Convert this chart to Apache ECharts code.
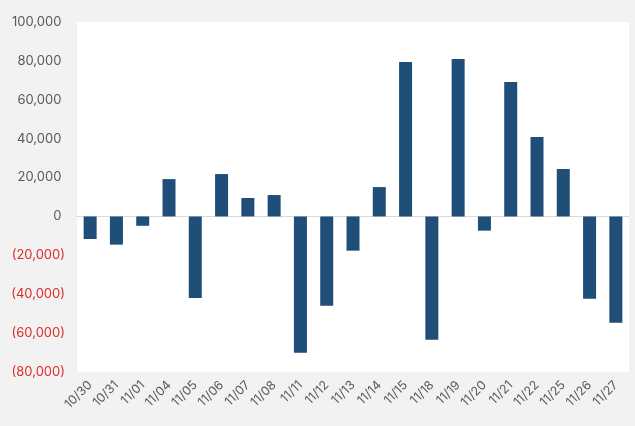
<!DOCTYPE html>
<html><head><meta charset="utf-8">
<script src="https://cdn.jsdelivr.net/npm/echarts@6/dist/echarts.min.js"></script>
<style>html,body{margin:0;padding:0;background:#f2f2f2}#c{width:635px;height:426px}</style>
</head><body><div id="c"></div>
<script>
const categories = ['10/30','10/31','11/01','11/04','11/05','11/06','11/07','11/08','11/11','11/12','11/13','11/14','11/15','11/18','11/19','11/20','11/21','11/22','11/25','11/26','11/27'];
const values = [-11600,-14500,-4800,19200,-42000,21800,9500,11000,-70100,-45900,-17600,15100,79400,-63400,81000,-7300,69100,40800,24400,-42300,-54700];
const yMin = -80000, yMax = 100000, yStep = 20000;

function fmt(v){
  const s = Math.abs(v).toLocaleString('en-US');
  return v < 0 ? '(' + s + ')' : s + ' ';
}
const chart = echarts.init(document.getElementById('c'));
chart.setOption({
  backgroundColor: '#f2f2f2',
  animation: false,
  grid: { left: 77, right: 6, top: 22, bottom: 54, show: true, backgroundColor: '#ffffff', borderWidth: 0 },
  xAxis: {
    type: 'category', data: categories,
    axisLine: { show: true, onZero: true, lineStyle: { color: '#d9d9d9', width: 1 } },
    axisTick: { show: false },
    axisLabel: { rotate: 45, interval: 0, color: '#595959', fontSize: 12.5, fontFamily: 'Inter, sans-serif', margin: 11 }
  },
  yAxis: {
    type: 'value', min: yMin, max: yMax, interval: yStep,
    splitLine: { show: false }, axisLine: { show: false }, axisTick: { show: false },
    axisLabel: {
      formatter: fmt, fontSize: 13, fontFamily: 'Inter, sans-serif', margin: 12,
      color: function(v){ return v < 0 ? '#e02b2b' : '#595959'; }
    }
  },
  series: [{
    type: 'bar', data: values, barWidth: 13,
    itemStyle: { color: '#1f4e79' }
  }]
});
</script></body></html>
